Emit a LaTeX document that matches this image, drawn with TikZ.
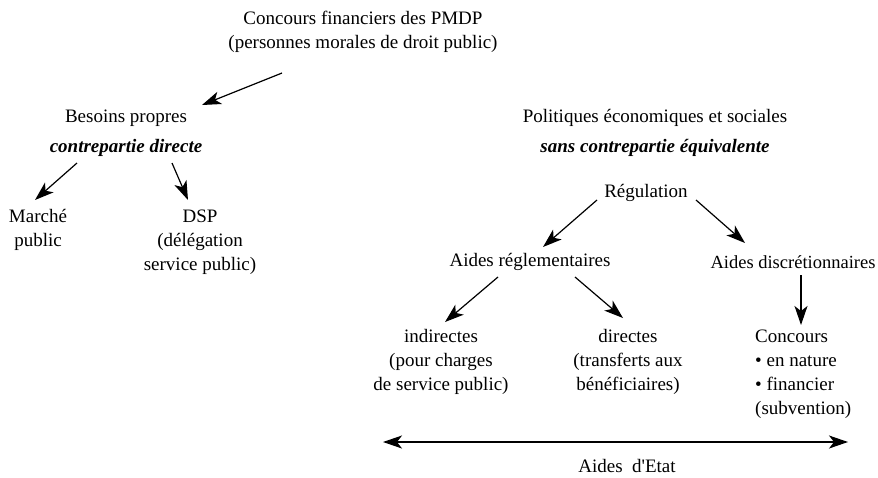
\documentclass[tikz,border=0pt]{standalone}
\usepackage{fontspec}
\setmainfont{Liberation Serif}
\usetikzlibrary{arrows.meta}
\begin{document}
\begin{tikzpicture}[x=1pt,y=-1pt,
  lbl/.style={inner sep=0pt, align=center, font=\fontsize{19}{24}\selectfont},
  tip/.tip={Stealth[length=19pt,width=13pt,inset=5pt]},
  arr/.style={-tip, line width=1.2pt},
  darr/.style={tip-tip, line width=1.2pt}]
\useasboundingbox (0,0) rectangle (878,477);

\node[lbl] (top) at (363,32) {Concours financiers des PMDP\\(personnes morales de droit public)};
\node[lbl] (bes) at (126,133) {Besoins propres\\[6pt]\textbf{\textit{contrepartie directe}}};
\node[lbl] (mar) at (38,230) {Marché\\public};
\node[lbl] (dsp) at (200,242) {DSP\\(délégation\\service public)};
\node[lbl] (pol) at (655,133) {Politiques économiques et sociales\\[6pt]\textbf{\textit{sans contrepartie équivalente}}};
\node[lbl] (reg) at (646,193) {Régulation};
\node[lbl] (areg) at (530,262) {Aides réglementaires};
\node[lbl, font=\fontsize{18.5}{24}\selectfont] (adis) at (793,262) {Aides discrétionnaires};
\node[lbl] (ind) at (441,362) {indirectes\\(pour charges\\de service public)};
\node[lbl] (dir) at (628,362) {directes\\(transferts aux\\bénéficiaires)};
\node[lbl, align=left, anchor=west] (conc) at (755,374) {Concours\\• en nature\\• financier\\(subvention)};
\node[lbl] (etat) at (627,466) {Aides\ \ d\textquotesingle Etat};

\coordinate (a1s) at (282,73);  \coordinate (a1e) at (202,105);
\coordinate (a2s) at (77,163);  \coordinate (a2e) at (35,200);
\coordinate (a3s) at (172,163); \coordinate (a3e) at (188,200);
\coordinate (a4s) at (597,200); \coordinate (a4e) at (543,247);
\coordinate (a5s) at (696,200); \coordinate (a5e) at (745,243);
\coordinate (a6s) at (498,277); \coordinate (a6e) at (445,322);
\coordinate (a7s) at (575,277); \coordinate (a7e) at (623,318);
\coordinate (a8s) at (801,275); \coordinate (a8e) at (801,325);
\coordinate (a9s) at (383,442); \coordinate (a9e) at (848,442);

\draw[arr] (a1s) -- (a1e);
\draw[arr] (a2s) -- (a2e);
\draw[arr] (a3s) -- (a3e);
\draw[arr] (a4s) -- (a4e);
\draw[arr] (a5s) -- (a5e);
\draw[arr] (a6s) -- (a6e);
\draw[arr] (a7s) -- (a7e);
\draw[arr] (a8s) -- (a8e);
\draw[darr] (a9s) -- (a9e);
\end{tikzpicture}
\end{document}
